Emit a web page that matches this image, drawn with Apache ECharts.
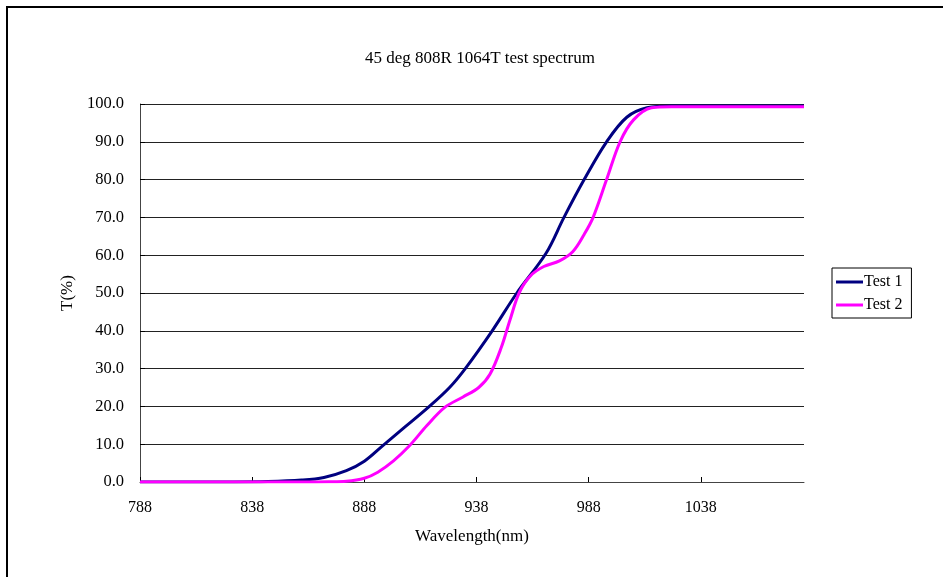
<!DOCTYPE html>
<html>
<head>
<meta charset="utf-8">
<script src="https://cdn.jsdelivr.net/npm/echarts@6/dist/echarts.min.js"></script>
<style>
html,body{margin:0;padding:0;background:#fff;}
#c{width:943px;height:577px;}
</style>
</head>
<body>
<div id="c"></div>
<script>
// Data
const test1Wl = [788, 830, 845, 860, 870, 880, 888, 896, 906, 917, 926, 933, 945, 956, 969, 977, 986, 996, 1005, 1014, 1025, 1050, 1084];
const test1T  = [0, 0, 0.1, 0.5, 1.2, 3, 5.5, 9.5, 14.5, 20, 25, 30, 40, 50, 60.5, 70, 80, 90, 96.5, 99, 99.5, 99.5, 99.5];

const test2Wl = [788, 860, 872, 880, 888, 894, 901, 908, 916, 924, 932, 939, 944, 949, 953, 957, 962, 968, 975, 981, 986, 990, 996, 1002, 1008, 1016, 1025, 1050, 1084];
const test2T  = [0, 0, 0.05, 0.2, 1, 2.6, 5.6, 9.5, 15, 19.8, 22.5, 25, 28.5, 35.5, 43, 50, 54.5, 57, 58.5, 61, 65.5, 70, 80, 90, 95.8, 99, 99.3, 99.3, 99.3];

const xTicks = [788, 838, 888, 938, 988, 1038];
const yTicks = [0, 10, 20, 30, 40, 50, 60, 70, 80, 90, 100];

const pairs = (xs, ys) => xs.map((x, i) => [x, ys[i]]);
const FONT = 'Liberation Serif';

const chart = echarts.init(document.getElementById('c'), null, {renderer: 'canvas'});
chart.setOption({
  backgroundColor: '#fff',
  animation: false,
  textStyle: {fontFamily: FONT, color: '#000'},
  title: {
    text: '45 deg 808R 1064T test spectrum',
    left: 475, top: 45, textAlign: 'center',
    textStyle: {fontFamily: FONT, fontSize: 17, fontWeight: 'normal', color: '#000'}
  },
  graphic: [{
    type: 'rect', silent: true,
    shape: {x: 7, y: 7, width: 960, height: 600},
    style: {fill: 'none', stroke: '#000', lineWidth: 2}
  }],
  legend: {
    orient: 'vertical', left: 832, top: 268,
    padding: [6, 9, 5, 4], itemGap: 7,
    borderColor: '#000', borderWidth: 1, borderRadius: 0,
    icon: 'rect', itemWidth: 27, itemHeight: 3,
    textStyle: {fontFamily: FONT, fontSize: 16, color: '#000', padding: [0, 0, 0, -4]},
    data: ['Test 1', 'Test 2']
  },
  grid: {left: 140, right: 139, top: 104, bottom: 95, containLabel: false},
  xAxis: {
    type: 'value', min: 788, max: 1084,
    name: 'Wavelength(nm)', nameLocation: 'middle', nameGap: 46,
    nameTextStyle: {fontFamily: FONT, fontSize: 17, color: '#000'},
    axisLine: {show: true, lineStyle: {color: '#444', width: 1}},
    axisTick: {show: true, inside: true, length: 5, customValues: xTicks, lineStyle: {color: '#000'}},
    axisLabel: {customValues: xTicks, margin: 18, fontFamily: FONT, fontSize: 16, color: '#000',
      formatter: v => String(v)},
    splitLine: {show: false}
  },
  yAxis: {
    type: 'value', min: 0, max: 100, interval: 10,
    name: 'T(%)', nameLocation: 'middle', nameGap: 60, nameRotate: 90,
    nameTextStyle: {fontFamily: FONT, fontSize: 17, color: '#000'},
    axisLine: {show: true, lineStyle: {color: '#444', width: 1}},
    axisTick: {show: true, inside: true, length: 5, lineStyle: {color: '#000'}},
    axisLabel: {margin: 16, fontFamily: FONT, fontSize: 16.5, color: '#000',
      formatter: v => v.toFixed(1)},
    splitLine: {show: true, lineStyle: {color: '#222', width: 1}}
  },
  series: [
    {
      name: 'Test 1', type: 'line', smooth: 0.35, showSymbol: false, symbol: 'none',
      data: pairs(test1Wl, test1T),
      lineStyle: {color: '#000080', width: 3},
      itemStyle: {color: '#000080'}, z: 3
    },
    {
      name: 'Test 2', type: 'line', smooth: 0.35, showSymbol: false, symbol: 'none',
      data: pairs(test2Wl, test2T),
      lineStyle: {color: '#FF00FF', width: 3},
      itemStyle: {color: '#FF00FF'}, z: 4
    }
  ]
});
</script>
</body>
</html>
